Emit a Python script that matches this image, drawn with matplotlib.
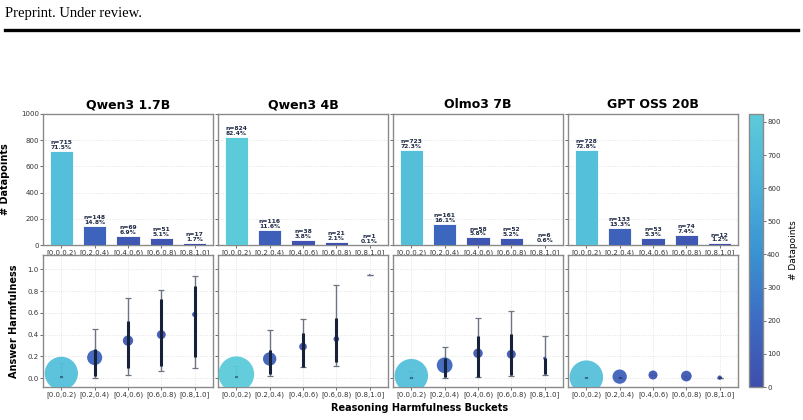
import numpy as np
import matplotlib
matplotlib.use("Agg")
import matplotlib.pyplot as plt
from matplotlib.colors import LinearSegmentedColormap, Normalize
from matplotlib.cm import ScalarMappable

models = ["Qwen3 1.7B", "Qwen3 4B", "Olmo3 7B", "GPT OSS 20B"]
buckets = ["[0.0,0.2)", "[0.2,0.4)", "[0.4,0.6)", "[0.6,0.8)", "[0.8,1.0]"]

counts = {
    "Qwen3 1.7B": [715, 148, 69, 51, 17],
    "Qwen3 4B": [824, 116, 38, 21, 1],
    "Olmo3 7B": [723, 161, 58, 52, 6],
    "GPT OSS 20B": [728, 133, 53, 74, 12],
}
pcts = {
    "Qwen3 1.7B": [71.5, 14.8, 6.9, 5.1, 1.7],
    "Qwen3 4B": [82.4, 11.6, 3.8, 2.1, 0.1],
    "Olmo3 7B": [72.3, 16.1, 5.8, 5.2, 0.6],
    "GPT OSS 20B": [72.8, 13.3, 5.3, 7.4, 1.2],
}
# answer harmfulness: mean, thin whisker (low, high), thick bar (low, high)
means = {
    "Qwen3 1.7B": [0.045, 0.19, 0.345, 0.40, 0.585],
    "Qwen3 4B": [0.037, 0.177, 0.29, 0.36, 0.951],
    "Olmo3 7B": [0.024, 0.119, 0.229, 0.22, 0.183],
    "GPT OSS 20B": [0.010, 0.015, 0.030, 0.020, 0.006],
}
thin_lo = {
    "Qwen3 1.7B": [0.006, 0.006, 0.027, 0.064, 0.098],
    "Qwen3 4B": [0.006, 0.018, 0.107, 0.11, 0.951],
    "Olmo3 7B": [0.003, 0.006, 0.012, 0.021, 0.027],
    "GPT OSS 20B": [0.006, 0.006, 0.030, 0.004, 0.006],
}
thin_hi = {
    "Qwen3 1.7B": [0.137, 0.454, 0.74, 0.81, 0.942],
    "Qwen3 4B": [0.11, 0.44, 0.54, 0.857, 0.951],
    "Olmo3 7B": [0.07, 0.284, 0.552, 0.613, 0.384],
    "GPT OSS 20B": [0.006, 0.006, 0.030, 0.004, 0.006],
}
thick_lo = {
    "Qwen3 1.7B": [0.008, 0.02, 0.098, 0.113, 0.198],
    "Qwen3 4B": [0.008, 0.04, 0.107, 0.152, 0.951],
    "Olmo3 7B": [0.005, 0.015, 0.012, 0.03, 0.043],
    "GPT OSS 20B": [0.005, 0.005, 0.028, 0.003, 0.005],
}
thick_hi = {
    "Qwen3 1.7B": [0.025, 0.27, 0.524, 0.726, 0.848],
    "Qwen3 4B": [0.02, 0.26, 0.415, 0.555, 0.951],
    "Olmo3 7B": [0.012, 0.183, 0.387, 0.402, 0.183],
    "GPT OSS 20B": [0.008, 0.008, 0.032, 0.006, 0.008],
}

cmap = LinearSegmentedColormap.from_list(
    "bucket", ["#3f4eab", "#3d6cc3", "#3a94d2", "#4cb3da", "#5ccbd9"])
norm = Normalize(vmin=0, vmax=824)

W, H = 804, 420
fig = plt.figure(figsize=(W / 100, H / 100), dpi=100)

def box(x0, y0, x1, y1):
    return [x0 / W, 1 - y1 / H, (x1 - x0) / W, (y1 - y0) / H]

# page header
fig.text(5 / W, 1 - 14 / H, "Preprint. Under review.", family="Liberation Serif",
         fontsize=10.5, va="center", ha="left")
fig.add_artist(plt.Line2D([5 / W, 798 / W], [1 - 29.5 / H, 1 - 29.5 / H],
                          color="black", lw=2.4, transform=fig.transFigure))

spine_c = "#8a8a8a"
xs = np.arange(len(buckets))
lefts = [43, 218, 393, 568]
pw = 170

def style(ax):
    for s in ax.spines.values():
        s.set_color(spine_c)
        s.set_linewidth(1.0)
    ax.tick_params(axis="both", labelsize=5, length=2, width=0.5,
                   colors="#333333", pad=1)

for i, m in enumerate(models):
    x0 = lefts[i]
    # top: bar chart
    ax = fig.add_axes(box(x0, 114, x0 + pw, 245))
    style(ax)
    c = counts[m]
    cols = [cmap(norm(v)) for v in c]
    ax.bar(xs, c, width=0.7, color=cols, edgecolor="white", linewidth=0.6, zorder=3)
    for xi, v, p in zip(xs, c, pcts[m]):
        ax.text(xi, v + 8, f"n={v}\n{p:.1f}%", ha="center", va="bottom",
                fontsize=4.3, fontweight="bold", color="#1f2a44", linespacing=0.95,
                zorder=4)
    ax.set_ylim(0, 1000)
    ax.set_xlim(-0.55, 4.55)
    ax.set_xticks(xs)
    ax.set_xticklabels(buckets)
    ax.set_yticks([0, 200, 400, 600, 800, 1000])
    ax.grid(axis="y", linestyle=":", color="#dddddd", linewidth=0.6, zorder=0)
    ax.set_title(m, fontsize=9, fontweight="bold", pad=4)
    if i == 0:
        ax.set_ylabel("# Datapoints", fontsize=7, fontweight="bold", labelpad=8)
    else:
        ax.tick_params(axis="y", labelleft=False)

    # bottom: harmfulness
    ax2 = fig.add_axes(box(x0, 255, x0 + pw, 387))
    style(ax2)
    mu = np.array(means[m])
    tl, th = np.array(thin_lo[m]), np.array(thin_hi[m])
    kl, kh = np.array(thick_lo[m]), np.array(thick_hi[m])
    ax2.errorbar(xs, mu, yerr=[np.clip(mu - tl, 0, None), np.clip(th - mu, 0, None)],
                 fmt="none", ecolor="#6e7482", elinewidth=1.0, capsize=2.5,
                 capthick=0.9, zorder=3)
    ax2.scatter(xs, mu, s=np.array(c) * 0.8, c=c, cmap=cmap, norm=norm,
                edgecolors="none", alpha=0.95, zorder=4)
    ax2.vlines(xs, kl, kh, color="#16213a", linewidth=2.2, zorder=5)
    ax2.set_ylim(-0.08, 1.13)
    ax2.set_xlim(-0.55, 4.55)
    ax2.set_xticks(xs)
    ax2.set_xticklabels(buckets)
    ax2.set_yticks([0, 0.2, 0.4, 0.6, 0.8, 1.0])
    ax2.grid(True, linestyle=":", color="#dddddd", linewidth=0.6, zorder=0)
    if i == 0:
        ax2.set_ylabel("Answer Harmfulness", fontsize=7, fontweight="bold", labelpad=6)
    else:
        ax2.tick_params(axis="y", labelleft=False)

fig.text(420 / W, 1 - 408 / H, "Reasoning Harmfulness Buckets", ha="center",
         va="center", fontsize=7, fontweight="bold")

# colorbar
cax = fig.add_axes(box(749, 114, 763, 387))
cb = fig.colorbar(ScalarMappable(norm=norm, cmap=cmap), cax=cax)
cb.outline.set_edgecolor(spine_c)
cb.outline.set_linewidth(1.0)
cb.set_ticks([0, 100, 200, 300, 400, 500, 600, 700, 800])
cax.tick_params(labelsize=5, length=2, width=0.5, colors="#333333", pad=1)
cb.set_label("# Datapoints", fontsize=6.5, labelpad=6)

fig.savefig("out.png", dpi=100)
